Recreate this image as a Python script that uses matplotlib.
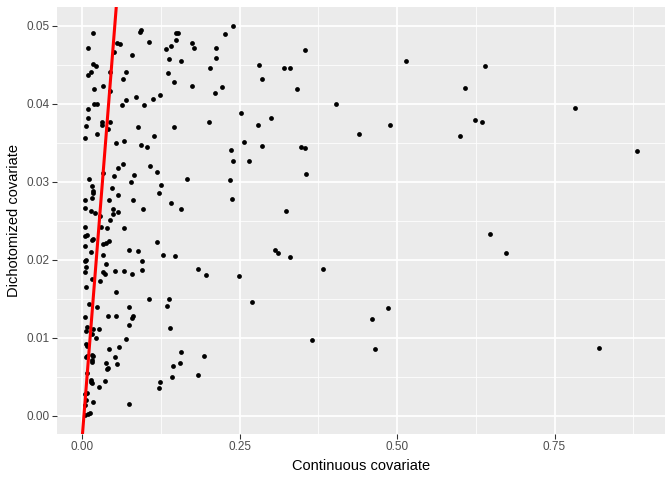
import matplotlib
matplotlib.use("Agg")
import matplotlib.pyplot as plt
import numpy as np

plt.rcParams['font.family'] = ['Liberation Sans', 'DejaVu Sans']

continuous = [
    0.0175, 0.0090, 0.0910, 0.0937, 0.1068, 0.0551, 0.0608, 0.0508, 0.0798, 0.0175,
    0.0222, 0.0138, 0.0090, 0.0703, 0.0651, 0.0444, 0.0329, 0.0186, 0.0444, 0.0857,
    0.0698, 0.0186, 0.0233, 0.0630, 0.0979, 0.0090, 0.0100, 0.0063, 0.0052, 0.0313,
    0.0322, 0.0444, 0.0402, 0.0233, 0.0884, 0.0656, 0.0544, 0.0937, 0.1027, 0.0651,
    0.0567, 0.0329, 0.0513, 0.0821, 0.0111, 0.0773, 0.0154, 0.0476, 0.0179, 0.0170,
    0.0576, 0.0037, 0.0163, 0.0429, 0.0805, 0.0043, 0.0138, 0.0206, 0.0487, 0.0567,
    0.0963, 0.1079, 0.0286, 0.0487, 0.0444, 0.0306, 0.0392, 0.0671, 0.0043, 0.0075,
    0.0048, 0.0170, 0.0154, 0.0429, 0.0381, 0.0338, 0.0043, 0.0132, 0.0741, 0.0894,
    0.0333, 0.0063, 0.0043, 0.0948, 0.0381, 0.0063, 0.0037, 0.0338, 0.0360, 0.0524,
    0.0671, 0.0794, 0.0952, 0.0159, 0.0286, 0.0059, 0.0529, 0.1063, 0.0106, 0.0233,
    0.0741, 0.0786, 0.0810, 0.0043, 0.0417, 0.0544, 0.0741, 0.0075, 0.0059, 0.0170,
    0.0265, 0.0148, 0.0217, 0.0694, 0.0059, 0.0075, 0.0583, 0.0433, 0.0063, 0.0084,
    0.0159, 0.0179, 0.0159, 0.0159, 0.0519, 0.0381, 0.0560, 0.0402, 0.0386, 0.0079,
    0.0132, 0.0143, 0.0154, 0.0370, 0.0270, 0.0037, 0.0084, 0.0059, 0.0043, 0.0179,
    0.0741, 0.0037, 0.0090, 0.0122, 0.2397, 0.2270, 0.1492, 0.1529, 0.1492, 0.1741,
    0.1413, 0.1338, 0.1783, 0.2132, 0.1381, 0.1576, 0.2122, 0.2037, 0.2814, 0.1360,
    0.1456, 0.1751, 0.2227, 0.2111, 0.1233, 0.1132, 0.2519, 0.2021, 0.2798, 0.1465,
    0.1148, 0.2567, 0.2370, 0.2397, 0.2656, 0.1195, 0.1667, 0.2354, 0.1259, 0.1222,
    0.2381, 0.1408, 0.1571, 0.1190, 0.1290, 0.1471, 0.1837, 0.1963, 0.2492, 0.1381,
    0.1354, 0.2698, 0.1397, 0.1571, 0.1937, 0.1551, 0.1449, 0.1429, 0.1846, 0.1243,
    0.1227, 0.3540, 0.3211, 0.3302, 0.2852, 0.3413, 0.5148, 0.4037, 0.3000, 0.4884,
    0.4402, 0.2862, 0.3476, 0.3540, 0.3551, 0.3243, 0.3063, 0.3106, 0.3302, 0.3830,
    0.4857, 0.4608, 0.3656, 0.4646, 0.6397, 0.6079, 0.6238, 0.6354, 0.6000, 0.7825,
    0.8810, 0.6481, 0.6725, 0.8211,
]

dichotomized = [
    0.0490, 0.0471, 0.0492, 0.0494, 0.0479, 0.0477, 0.0476, 0.0466, 0.0462, 0.0451,
    0.0448, 0.0441, 0.0436, 0.0441, 0.0432, 0.0440, 0.0423, 0.0419, 0.0416, 0.0408,
    0.0404, 0.0399, 0.0399, 0.0398, 0.0398, 0.0393, 0.0382, 0.0371, 0.0356, 0.0376,
    0.0373, 0.0377, 0.0367, 0.0361, 0.0370, 0.0352, 0.0349, 0.0347, 0.0344, 0.0322,
    0.0318, 0.0311, 0.0307, 0.0309, 0.0304, 0.0299, 0.0294, 0.0292, 0.0288, 0.0286,
    0.0283, 0.0277, 0.0279, 0.0277, 0.0276, 0.0266, 0.0262, 0.0260, 0.0265, 0.0261,
    0.0265, 0.0320, 0.0256, 0.0258, 0.0251, 0.0242, 0.0241, 0.0240, 0.0242, 0.0232,
    0.0230, 0.0226, 0.0225, 0.0224, 0.0222, 0.0220, 0.0218, 0.0210, 0.0212, 0.0211,
    0.0206, 0.0200, 0.0198, 0.0198, 0.0194, 0.0191, 0.0184, 0.0184, 0.0182, 0.0185,
    0.0185, 0.0182, 0.0187, 0.0175, 0.0173, 0.0165, 0.0158, 0.0149, 0.0143, 0.0139,
    0.0139, 0.0125, 0.0128, 0.0127, 0.0128, 0.0128, 0.0116, 0.0114, 0.0109, 0.0111,
    0.0111, 0.0105, 0.0100, 0.0098, 0.0092, 0.0090, 0.0088, 0.0085, 0.0075, 0.0076,
    0.0078, 0.0077, 0.0071, 0.0069, 0.0075, 0.0068, 0.0066, 0.0061, 0.0060, 0.0055,
    0.0046, 0.0043, 0.0042, 0.0044, 0.0037, 0.0028, 0.0029, 0.0020, 0.0014, 0.0018,
    0.0015, 0.0001, 0.0002, 0.0003, 0.0499, 0.0489, 0.0490, 0.0490, 0.0481, 0.0478,
    0.0474, 0.0470, 0.0471, 0.0471, 0.0457, 0.0455, 0.0458, 0.0446, 0.0450, 0.0439,
    0.0428, 0.0423, 0.0421, 0.0413, 0.0411, 0.0406, 0.0388, 0.0377, 0.0372, 0.0370,
    0.0358, 0.0351, 0.0341, 0.0326, 0.0327, 0.0312, 0.0304, 0.0302, 0.0296, 0.0286,
    0.0278, 0.0272, 0.0265, 0.0223, 0.0206, 0.0205, 0.0188, 0.0181, 0.0179, 0.0149,
    0.0141, 0.0146, 0.0112, 0.0082, 0.0076, 0.0068, 0.0064, 0.0050, 0.0052, 0.0043,
    0.0036, 0.0469, 0.0446, 0.0445, 0.0432, 0.0419, 0.0455, 0.0399, 0.0381, 0.0372,
    0.0361, 0.0345, 0.0344, 0.0343, 0.0310, 0.0262, 0.0213, 0.0209, 0.0203, 0.0188,
    0.0138, 0.0124, 0.0097, 0.0086, 0.0448, 0.0420, 0.0379, 0.0376, 0.0358, 0.0394,
    0.0339, 0.0233, 0.0209, 0.0087,
]

line_slope = 1.02
line_intercept = -0.0028

x_ticks = [0.0, 0.25, 0.50, 0.75]
x_ticklabels = ["0.00", "0.25", "0.50", "0.75"]
y_ticks = [0.00, 0.01, 0.02, 0.03, 0.04, 0.05]
y_ticklabels = ["0.00", "0.01", "0.02", "0.03", "0.04", "0.05"]

fig = plt.figure(figsize=(7, 5), dpi=96)
ax = fig.add_axes([57/672, 1 - 434/480, (665 - 57)/672, (434 - 7)/480])
ax.set_facecolor('#EBEBEB')

ax.set_xlim(-0.0400, 0.9254)
ax.set_ylim(-0.00233, 0.05237)

# grid
for v in [0.125, 0.375, 0.625, 0.875]:
    ax.axvline(v, color='white', lw=0.6, zorder=0.5)
for v in [0.005, 0.015, 0.025, 0.035, 0.045]:
    ax.axhline(v, color='white', lw=0.6, zorder=0.5)
for v in x_ticks:
    ax.axvline(v, color='white', lw=1.3, zorder=0.6)
for v in y_ticks:
    ax.axhline(v, color='white', lw=1.3, zorder=0.6)

ax.scatter(continuous, dichotomized, s=13, color='black', linewidths=0, zorder=2)
ax.axline((0, line_intercept), slope=line_slope, color='#FF0000', lw=2.3, zorder=3)

for s in ax.spines.values():
    s.set_visible(False)

ax.set_xticks(x_ticks)
ax.set_xticklabels(x_ticklabels)
ax.set_yticks(y_ticks)
ax.set_yticklabels(y_ticklabels)
ax.tick_params(axis='both', direction='out', length=3.5, width=0.8, color='#333333',
               labelcolor='#4D4D4D', labelsize=8.8, pad=2)

ax.set_xlabel("Continuous covariate", fontsize=11, color='black', labelpad=4)
ax.set_ylabel("Dichotomized covariate", fontsize=11, color='black', labelpad=4)

fig.savefig("out.png", dpi=96)
